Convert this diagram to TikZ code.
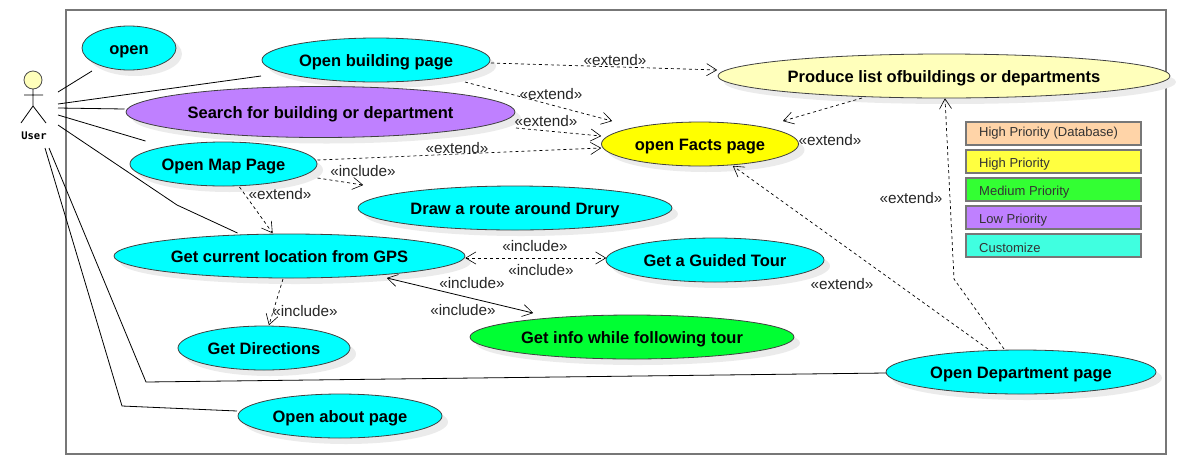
\documentclass[tikz,border=0pt]{standalone}
\usepackage{fontspec}
\setmainfont{Liberation Sans}
\newfontfamily\actorfont{DejaVu Sans Mono}
\usetikzlibrary{calc,shadows,arrows.meta,shapes.geometric}
\definecolor{framegray}{HTML}{777777}
\definecolor{ucCyan}{HTML}{00FFFF}
\definecolor{ucPurple}{HTML}{BF80FF}
\definecolor{ucYellow}{HTML}{FFFF00}
\definecolor{ucPale}{HTML}{FFFFBB}
\definecolor{ucGreen}{HTML}{00FF33}
\definecolor{lgPeach}{HTML}{FFD4A8}
\definecolor{lgYellow}{HTML}{FFFF40}
\definecolor{lgGreen}{HTML}{33FF33}
\definecolor{lgTeal}{HTML}{40FFE0}
\tikzset{
  usecase/.style={ellipse,draw=black!75,line width=0.8pt,inner sep=0pt,
    text height=12pt,text depth=0pt,
    font=\fontsize{16.5}{18}\selectfont\bfseries,
    drop shadow={shadow xshift=6pt,shadow yshift=-6pt,fill=black!8,opacity=1}},
  assoc/.style={draw=black,line width=0.8pt},
  barb/.tip={Straight Barb[length=10pt,width=12pt,line width=0.6pt,round]},
  dep/.style={draw=black,line width=0.7pt,dash pattern=on 3pt off 3pt,-barb},
  stereo/.style={font=\fontsize{15.3}{17}\selectfont,text=black!85,inner sep=0pt},
  legendbox/.style={draw=framegray,line width=1.3pt,minimum width=175pt,minimum height=23pt,
    inner sep=0pt,outer sep=0pt,anchor=north west},
  legendtext/.style={font=\fontsize{13}{14}\selectfont,text=black!80,inner sep=0pt,anchor=west},
}
\begin{document}
\begin{tikzpicture}[x=1pt,y=-1pt]
\useasboundingbox (0,0) rectangle (1180,464);
\node[draw=framegray,line width=2pt,minimum width=1100pt,minimum height=444pt,inner sep=0pt,outer sep=0pt,anchor=north west] (frame) at (66,10) {};

% actor
\draw[draw=black!70,fill=ucPale,line width=0.8pt] (33,80) circle (9);
\draw[line width=0.8pt] (33,89) -- (33,106) (24,95) -- (43,95) (21,123) -- (33,106) -- (46,123);
\node[font=\fontsize{10.5}{12}\actorfont\bfseries,inner sep=0pt] (user) at (34,136) {User};
\coordinate (ua) at (58,92);
\coordinate (ub) at (58,104);
\coordinate (uc) at (58,108);
\coordinate (ud) at (58,115);
\coordinate (ue) at (58,125);
\coordinate (uf) at (49,148);
\coordinate (ug) at (45,148);

% use cases
\node[usecase,fill=ucCyan,minimum width=94pt,minimum height=44pt] (open) at (129,48) {open};
\node[usecase,fill=ucCyan,minimum width=228pt,minimum height=44pt] (bld) at (376,60) {Open building page};
\node[usecase,fill=ucPurple,minimum width=389pt,minimum height=51pt] (search) at (320.5,112) {Search for building or department};
\node[usecase,fill=ucCyan,minimum width=187pt,minimum height=44pt] (map) at (223.5,164) {Open Map Page};
\node[usecase,fill=ucCyan,minimum width=314pt,minimum height=44pt] (route) at (515,208) {Draw a route around Drury};
\node[usecase,fill=ucCyan,minimum width=351pt,minimum height=44pt] (gps) at (289.5,256) {Get current location from GPS};
\node[usecase,fill=ucCyan,minimum width=218pt,minimum height=44pt] (tour) at (715,260) {Get a Guided Tour};
\node[usecase,fill=ucGreen,minimum width=324pt,minimum height=44pt] (info) at (632,337) {Get info while following tour};
\node[usecase,fill=ucCyan,minimum width=172pt,minimum height=44pt] (dirs) at (264,348) {Get Directions};
\node[usecase,fill=ucCyan,minimum width=204pt,minimum height=44pt] (about) at (340,416) {Open about page};
\node[usecase,fill=ucCyan,minimum width=270pt,minimum height=44pt] (dept) at (1021,372) {Open Department page};
\node[usecase,fill=ucYellow,minimum width=197pt,minimum height=44pt] (facts) at (700,144) {open Facts page};
\node[usecase,fill=ucPale,minimum width=452pt,minimum height=44pt] (list) at (944,76) {Produce list ofbuildings or departments};

% associations
\draw[assoc] (ua) -- ($(open)+(-37,23)$);
\draw[assoc] (ub) -- ($(bld)+(-115,16)$);
\draw[assoc] (uc) -- ($(search)+(-196,-3)$);
\draw[assoc] (ud) -- ($(map)+(-78,-23)$);
\draw[assoc] (ue) -- (177,205) -- ($(gps)+(-52,-23)$);
\draw[assoc] (uf) -- (146,382) -- ($(dept)+(-135,1)$);
\draw[assoc] (ug) -- (122,406) -- ($(about)+(-103,-5)$);

% dependencies
\draw[dep] ($(bld)+(115,3)$) -- ($(list)+(-227,-6)$);
\draw[dep] ($(bld)+(89,22)$) -- ($(facts)+(-88,-23)$);
\draw[dep] ($(search)+(195.5,16)$) -- ($(facts)+(-99,-8)$);
\draw[dep] ($(map)+(94,-4)$) -- ($(facts)+(-99,4)$);
\draw[dep] ($(map)+(94,14)$) -- ($(route)+(-152,-23)$);
\draw[dep] ($(map)+(16,23)$) -- ($(gps)+(-17,-23)$);
\draw[dep] ($(list)+(-82,22)$) -- ($(facts)+(83,-23)$);
\draw[dep] ($(dept)+(-17,-23)$) -- (954,279) -- ($(list)+(1,22.5)$);
\draw[dep] ($(dept)+(-33,-23)$) -- ($(facts)+(33,22)$);
\draw[dep] ($(gps)+(-6.5,23)$) -- ($(dirs)+(5,-23)$);
\draw[dep,barb-barb] ($(gps)+(176,2)$) -- ($(tour)+(-109,-2)$);
\draw[assoc,barb-barb] ($(gps)+(97.5,22)$) -- ($(info)+(-99,-24)$);

% stereotype labels
\node[stereo] (s1) at (615,60) {«extend»};
\node[stereo] (s2) at (551,94) {«extend»};
\node[stereo] (s3) at (546,121) {«extend»};
\node[stereo] (s4) at (457,148) {«extend»};
\node[stereo] (s5) at (830,140) {«extend»};
\node[stereo] (s6) at (911,198) {«extend»};
\node[stereo] (s7) at (842,284) {«extend»};
\node[stereo] (s8) at (280,194) {«extend»};
\node[stereo] (s9) at (363,171) {«include»};
\node[stereo] (s10) at (535,246) {«include»};
\node[stereo] (s11) at (541,270) {«include»};
\node[stereo] (s12) at (472,283) {«include»};
\node[stereo] (s13) at (463,310) {«include»};
\node[stereo] (s14) at (305,311) {«include»};

% legend
\node[legendbox,fill=lgPeach] (l1) at (966,122) {};
\node[legendbox,fill=lgYellow] (l2) at (966,150) {};
\node[legendbox,fill=lgGreen] (l3) at (966,178) {};
\node[legendbox,fill=ucPurple] (l4) at (966,206) {};
\node[legendbox,fill=lgTeal] (l5) at (966,234) {};
\node[legendtext] (t1) at ($(l1.west)+(13,0)$) {High Priority (Database)};
\node[legendtext] (t2) at ($(l2.west)+(13,3)$) {High Priority};
\node[legendtext] (t3) at ($(l3.west)+(13,3)$) {Medium Priority};
\node[legendtext] (t4) at ($(l4.west)+(13,3)$) {Low Priority};
\node[legendtext] (t5) at ($(l5.west)+(13,2)$) {Customize};
\end{tikzpicture}
\end{document}
